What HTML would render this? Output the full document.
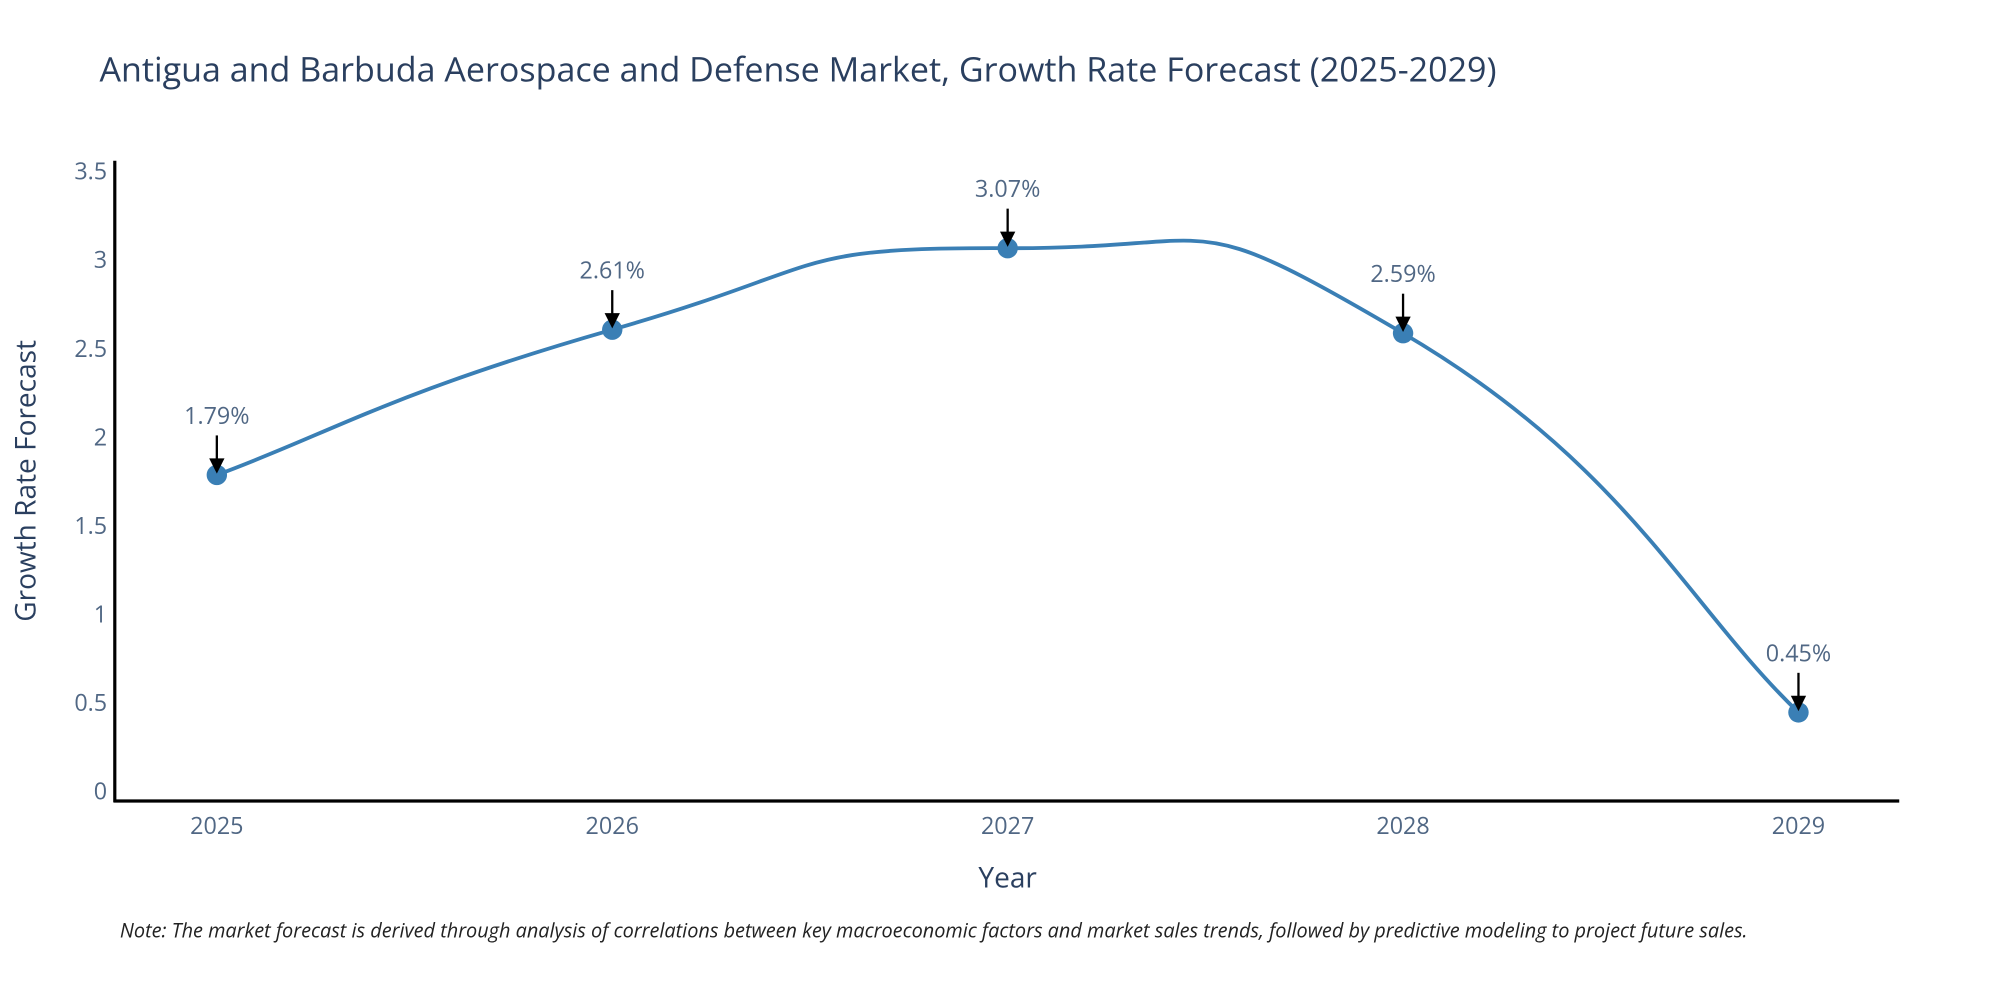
<!DOCTYPE html>
<html><head><meta charset="utf-8">
<style>
html,body{margin:0;padding:0;background:#fff;}
svg{display:block;font-family:"Open Sans","Liberation Sans",sans-serif;}
</style></head>
<body>
<svg id="chart" width="2000" height="1000" viewBox="0 0 1568 784" xmlns="http://www.w3.org/2000/svg">
  <rect width="1568" height="784" fill="#fff"/>
  <text x="78" y="64" font-size="26.7" fill="#2a3f5f">Antigua and Barbuda Aerospace and Defense Market, Growth Rate Forecast (2025-2029)</text>
  <g id="yticks"></g>
  <g id="xticks"></g>
  <line x1="90" y1="126" x2="90" y2="629" stroke="#000" stroke-width="2.5"/>
  <line x1="89" y1="628" x2="1489" y2="628" stroke="#000" stroke-width="2.5"/>
  <text transform="translate(28,377) rotate(-90)" text-anchor="middle" font-size="22" fill="#2a3f5f">Growth Rate Forecast</text>
  <text x="790" y="696" text-anchor="middle" font-size="22" fill="#2a3f5f">Year</text>
  <g id="series"></g>
  <text x="94" y="735" font-size="15.6" font-style="italic" fill="#222">Note: The market forecast is derived through analysis of correlations between key macroeconomic factors and market sales trends, followed by predictive modeling to project future sales.</text>
</svg>
<script>
const years = [2025, 2026, 2027, 2028, 2029];
const growth = [1.79, 2.61, 3.07, 2.59, 0.45];
const labels = ["1.79%", "2.61%", "3.07%", "2.59%", "0.45%"];
const yTicks = [0, 0.5, 1, 1.5, 2, 2.5, 3, 3.5];
const yTickLabels = ["0", "0.5", "1", "1.5", "2", "2.5", "3", "3.5"];

const NS = "http://www.w3.org/2000/svg";
function xS(i){ return 170 + i * 310; }
function yS(v){ return 621 - v * 138.9; }
function mk(tag, attrs, parent){ const e = document.createElementNS(NS, tag); for (const k in attrs) e.setAttribute(k, attrs[k]); parent.appendChild(e); return e; }

const yg = document.getElementById('yticks');
yTicks.forEach((v, i) => {
  const t = mk('text', {x: 84, y: yS(v) + 6, 'text-anchor': 'end', 'font-size': 18.3, fill: '#506784'}, yg);
  
  
  t.textContent = yTickLabels[i];
});
const xg = document.getElementById('xticks');
years.forEach((y, i) => {
  const t = mk('text', {x: xS(i), y: 654, 'text-anchor': 'middle', 'font-size': 18.3, fill: '#506784'}, xg);
  
  
  t.textContent = String(y);
});

const g = document.getElementById('series');
const pts = growth.map((v, i) => [xS(i), yS(v)]);
const s = 0.85;
let d = 'M' + pts[0][0] + ',' + pts[0][1];
for (let i = 0; i < pts.length - 1; i++) {
  const p0 = pts[Math.max(0, i - 1)], p1 = pts[i], p2 = pts[i + 1], p3 = pts[Math.min(pts.length - 1, i + 2)];
  const c1 = [p1[0] + (p2[0] - p0[0]) * s / 3, p1[1] + (p2[1] - p0[1]) * s / 3];
  const c2 = [p2[0] - (p3[0] - p1[0]) * s / 3, p2[1] - (p3[1] - p1[1]) * s / 3];
  d += ' C' + c1[0] + ',' + c1[1] + ' ' + c2[0] + ',' + c2[1] + ' ' + p2[0] + ',' + p2[1];
}
const line = mk('path', {d: d, fill: 'none', stroke: '#3a7fb5', 'stroke-width': 3}, g);



pts.forEach((p, i) => {
  const c = mk('circle', {cx: p[0], cy: p[1], r: 8, fill: '#3a7fb5'}, g);
  
  
  const a = mk('line', {x1: p[0], y1: p[1] - 31, x2: p[0], y2: p[1] - 12, stroke: '#000', 'stroke-width': 1.8}, g);
  
  
  const h = mk('polygon', {points: (p[0] - 6) + ',' + (p[1] - 13) + ' ' + (p[0] + 6) + ',' + (p[1] - 13) + ' ' + p[0] + ',' + (p[1] - 1), fill: '#000'}, g);
  
  
  const t = mk('text', {x: p[0], y: p[1] - 40, 'text-anchor': 'middle', 'font-size': 18.3, fill: '#506784'}, g);
  
  
  t.textContent = labels[i];
});
</script>
</body></html>
